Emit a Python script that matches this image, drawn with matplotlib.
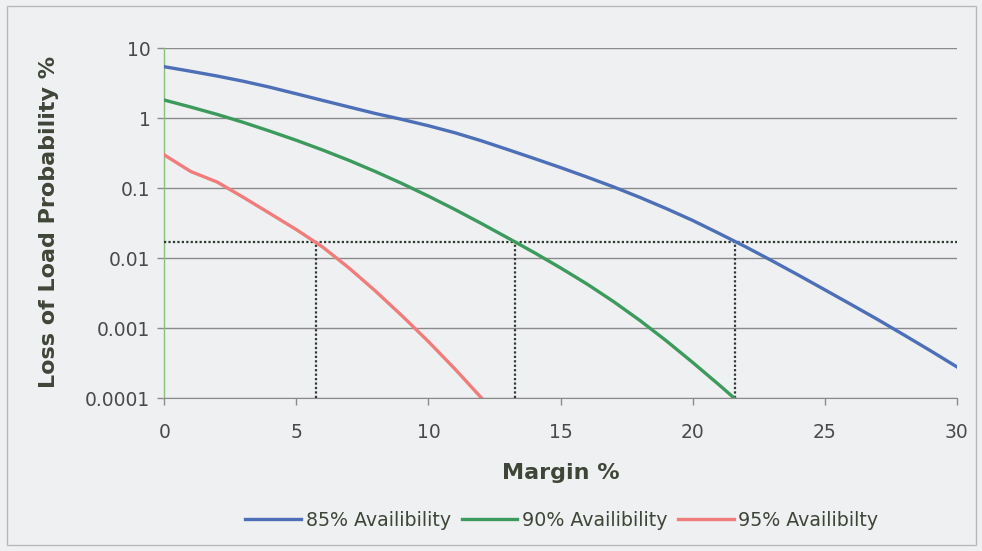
import matplotlib
matplotlib.use("Agg")
import matplotlib.pyplot as plt
from matplotlib.patches import Rectangle
from matplotlib.ticker import FixedLocator, FixedFormatter, NullLocator

# Margin (%) and loss-of-load probability (%) for three availability levels
margin_85 = list(range(0, 31))
lolp_85 = [5.46, 4.70, 4.02, 3.38, 2.78, 2.24, 1.80, 1.45, 1.17, 0.964,
           0.783, 0.622, 0.478, 0.358, 0.267, 0.198, 0.145, 0.105, 0.0743,
           0.0514, 0.0348, 0.0227, 0.01466, 0.00925, 0.00577, 0.00356,
           0.00219, 0.00134, 0.000805, 0.00048, 0.000282]

margin_90 = list(range(0, 23))
lolp_90 = [1.824, 1.449, 1.138, 0.873, 0.655, 0.485, 0.352, 0.250, 0.173,
           0.117, 0.0773, 0.0499, 0.0315, 0.0196, 0.0121, 0.0073, 0.0043,
           0.00242, 0.0013, 0.000665, 0.000326, 0.000156, 0.000073]

margin_95 = list(range(0, 14))
lolp_95 = [0.30, 0.174, 0.123, 0.0741, 0.0437, 0.0257, 0.01445, 0.00724,
           0.00339, 0.00151, 0.000646, 0.000263, 0.000102, 0.000038]

series_labels = ["85% Availibility", "90% Availibility", "95% Availibilty"]

# Target LOLP level and the margins required to reach it
target_lolp = 0.017
required_margins = [5.75, 13.27, 21.62]

x_ticks = [0, 5, 10, 15, 20, 25, 30]
y_ticks = [0.0001, 0.001, 0.01, 0.1, 1, 10]
y_tick_labels = ["0.0001", "0.001", "0.01", "0.1", "1", "10"]

BG = "#eef0f2"
TXT = "#3f4638"
TICK_TXT = "#4a4a4a"

plt.rcParams["font.family"] = ["DejaVu Sans"]

fig = plt.figure(figsize=(9.82, 5.51), dpi=100, facecolor=BG)
ax = fig.add_axes([0.1673, 0.2771, 0.807, 0.6352])
ax.set_facecolor(BG)

# chart border
fig.patches.append(Rectangle((0.007, 0.011), 0.987, 0.978, transform=fig.transFigure,
                             fill=False, edgecolor="#b8b8b8", linewidth=1.0))

ax.set_yscale("log")
ax.set_xlim(0, 30)
ax.set_ylim(0.0001, 10)

for yv in y_ticks:
    ax.axhline(yv, color="#8a8a8a", linewidth=1.0, zorder=1)

ax.plot(margin_85, lolp_85, color="#4d6fb7", linewidth=2.4, label=series_labels[0], zorder=4)
ax.plot(margin_90, lolp_90, color="#3c9a5c", linewidth=2.4, label=series_labels[1], zorder=4)
ax.plot(margin_95, lolp_95, color="#f07c7c", linewidth=2.4, label=series_labels[2], zorder=4)

# dotted guide lines to the target level
ax.plot([0, 30], [target_lolp, target_lolp], color="#2e3a2e", linestyle=(0, (1, 1)),
        linewidth=1.6, zorder=3)
for m in required_margins:
    ax.plot([m, m], [0.0001, target_lolp], color="#2e3a2e", linestyle=(0, (1, 1)),
            linewidth=1.6, zorder=3)

ax.xaxis.set_major_locator(FixedLocator(x_ticks))
ax.yaxis.set_major_locator(FixedLocator(y_ticks))
ax.yaxis.set_major_formatter(FixedFormatter(y_tick_labels))
ax.yaxis.set_minor_locator(NullLocator())

for s in ["top", "right"]:
    ax.spines[s].set_visible(False)
ax.spines["bottom"].set_color("#8a8a8a")
ax.spines["left"].set_color("#8cc07a")
ax.spines["left"].set_linewidth(1.0)

ax.tick_params(axis="x", direction="out", length=5, width=1, color="#8a8a8a",
               pad=13, labelsize=13.5, labelcolor=TICK_TXT)
ax.tick_params(axis="y", direction="out", length=5, width=1, color="#8a8a8a",
               pad=5, labelsize=13.5, labelcolor=TICK_TXT)

ax.set_xlabel("Margin %", fontsize=16, fontweight="bold", color=TXT)
ax.xaxis.label.set_va("center")
ax.xaxis.set_label_coords(0.5006, -0.2134)
ax.set_ylabel("Loss of Load Probability %", fontsize=16, fontweight="bold", color=TXT)
ax.yaxis.label.set_va("center")
ax.yaxis.label.set_ha("center")
ax.yaxis.set_label_coords(-0.1455, 0.505)

fig.legend(loc="center", bbox_to_anchor=(562 / 982, 1 - 520 / 551), ncol=3,
           frameon=False, fontsize=13.7, handlelength=2.9, handletextpad=0.26,
           columnspacing=0.58, labelcolor=TXT)

fig.savefig("out.png", dpi=100, facecolor=BG)
